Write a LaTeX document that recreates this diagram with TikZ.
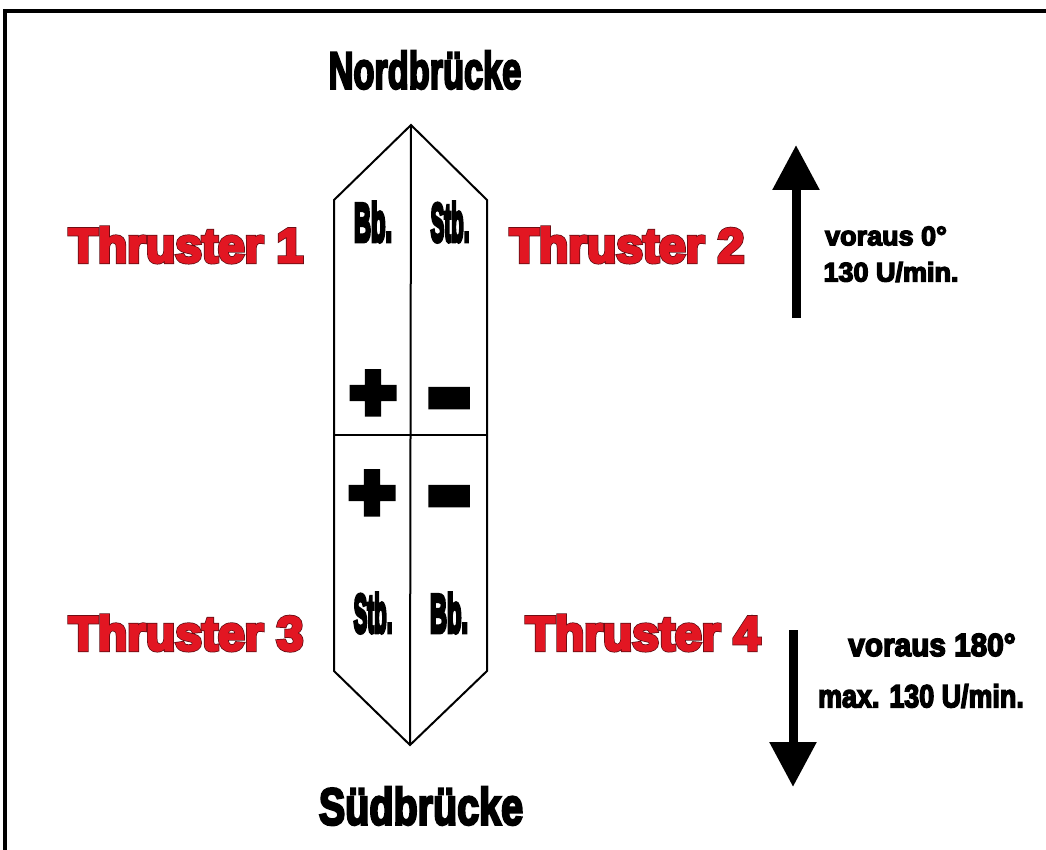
\documentclass[tikz,border=0pt]{standalone}
\usepackage{fontspec}
\usepackage{graphicx}
\setmainfont{Liberation Sans}
\newfontfamily\hvb[FakeBold=5]{Liberation Sans Bold}
\newfontfamily\hvo[FakeBold=8]{Liberation Sans Bold}
\newfontfamily\sidef[FakeBold=8]{Liberation Sans Bold}
\newfontfamily\plusf[FakeBold=10]{Liberation Sans Bold}
\newfontfamily\minusf[FakeBold=18]{Liberation Sans Bold}
\usetikzlibrary{arrows.meta}
\definecolor{thr}{RGB}{226,22,34}
\definecolor{thredge}{RGB}{95,12,18}
\begin{document}
\begin{tikzpicture}[x=1pt,y=-1pt,
  hull/.style={line width=2pt, line join=miter},
  frameline/.style={line width=3.5pt},
  bridge/.style={inner sep=0pt, font=\hvb\fontsize{52}{52}\selectfont},
  thruster/.style={inner sep=0pt, text=thr, font=\hvb\fontsize{48}{48}\selectfont},
  thrusteredge/.style={inner sep=0pt, text=thredge, font=\hvo\fontsize{48}{48}\selectfont},
  side/.style={inner sep=0pt, font=\sidef\fontsize{54}{54}\selectfont},
  plussign/.style={inner sep=0pt, font=\plusf\fontsize{78}{78}\selectfont},
  minussign/.style={inner sep=0pt, font=\minusf\fontsize{78}{78}\selectfont},
  info/.style={inner sep=0pt, font=\hvb\fontsize{27}{27}\selectfont},
  infob/.style={inner sep=0pt, font=\hvb\fontsize{32}{32}\selectfont},
  bigarrow/.style={line width=9pt, -{Triangle[width=45pt,length=45pt]}}
]
\useasboundingbox (0,0) rectangle (1046,850);
\fill[white] (0,0) rectangle (1046,850);
\draw[frameline] (5,850) -- (5,11) -- (1046,11);

% hull
\coordinate (top) at (411,125);
\coordinate (ul) at (334,200);
\coordinate (ur) at (487,200);
\coordinate (ml) at (334,435);
\coordinate (mr) at (487,435);
\coordinate (ll) at (334,671);
\coordinate (lr) at (487,671);
\coordinate (bot) at (410,745);
\draw[hull] (top) -- (ur) -- (lr) -- (bot) -- (ll) -- (ul) -- cycle;
\draw[hull] (top) -- (bot);
\draw[hull] (ml) -- (mr);

% bridges
\node[bridge] (nord) at (425,70) {\scalebox{0.66}[1]{Nordbrücke}};
\node[bridge] (sued) at (421,806) {\scalebox{0.76}[1]{Südbrücke}};

% thrusters (dark edge underneath, red on top)
\node[thrusteredge] (t1e) at (186,245) {Thruster 1};
\node[thruster] (t1) at (186,245) {Thruster 1};
\node[thrusteredge] (t2e) at (627,245) {Thruster 2};
\node[thruster] (t2) at (627,245) {Thruster 2};
\node[thrusteredge] (t3e) at (186,633) {Thruster 3};
\node[thruster] (t3) at (186,633) {Thruster 3};
\node[thrusteredge] (t4e) at (643,633) {Thruster 4};
\node[thruster] (t4) at (643,633) {Thruster 4};

% side labels
\node[side] (bb1) at (373,222) {\scalebox{0.44}[1]{Bb.}};
\node[side] (st1) at (450,222) {\scalebox{0.38}[1]{Stb.}};
\node[side] (st2) at (373,613) {\scalebox{0.38}[1]{Stb.}};
\node[side] (bb2) at (449,613) {\scalebox{0.44}[1]{Bb.}};

% signs
\node[plussign] (p1) at (373,396) {+};
\node[minussign] (m1) at (449,409) {\scalebox{0.78}[1]{\char"2212}};
\node[plussign] (p2) at (372,496) {+};
\node[minussign] (m2) at (449,507) {\scalebox{0.78}[1]{\char"2212}};

% arrows
\coordinate (ua) at (796,318);
\coordinate (ub) at (796,145);
\draw[bigarrow] (ua) -- (ub);
\coordinate (da) at (793,630);
\coordinate (db) at (793,787);
\draw[bigarrow] (da) -- (db);

% info texts
\node[info] (i1) at (886,236) {voraus 0°};
\node[info] (i2) at (891,272) {130 U/min.};
\node[infob] (i3) at (932,645) {\scalebox{0.93}[1]{voraus 180°}};
\node[infob] (i4) at (921,696) {\scalebox{0.84}[1]{max. 130 U/min.}};
\end{tikzpicture}
\end{document}
